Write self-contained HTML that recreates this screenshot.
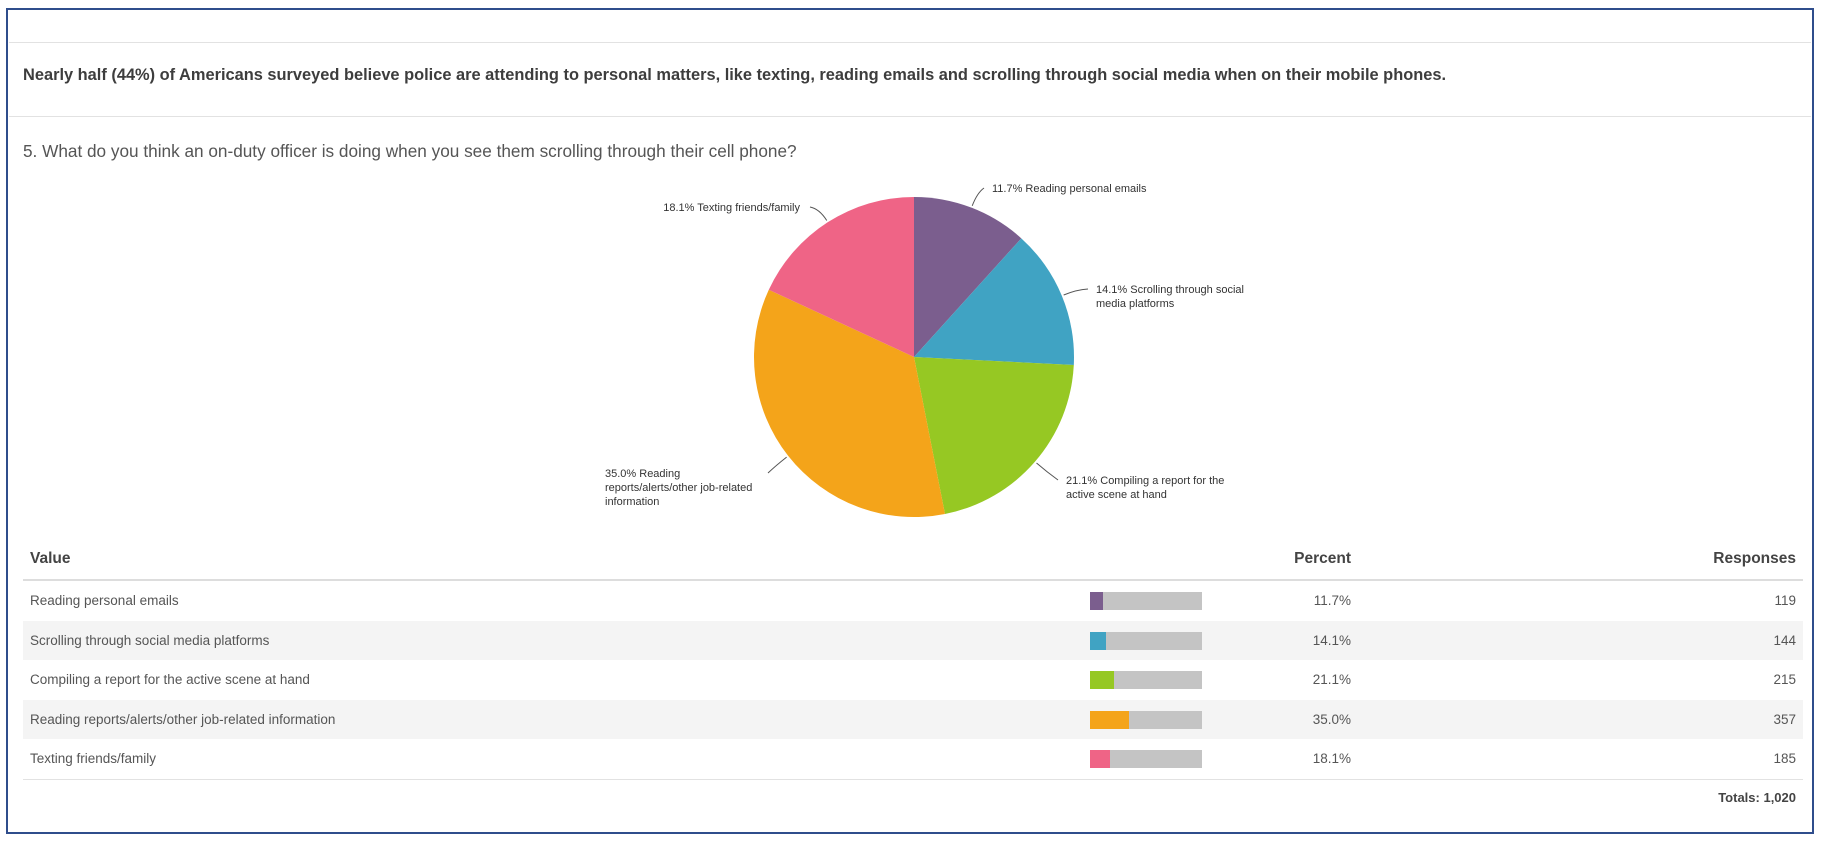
<!DOCTYPE html>
<html><head><meta charset="utf-8"><style>
body{margin:0;width:1823px;height:843px;background:#fff;font-family:"Liberation Sans",sans-serif;color:#444;position:relative;overflow:hidden}
.abs{position:absolute}
</style></head><body>
<div class="abs" style="left:6px;top:8px;width:1804px;height:822px;border:2.5px solid #2f4d8c"></div>
<div class="abs" style="left:9px;top:42px;width:1802px;height:1px;background:#e2e2e2"></div>
<div class="abs" style="left:23px;top:66px;font-size:16.4px;font-weight:bold;color:#3d3d3d">Nearly half (44%) of Americans surveyed believe police are attending to personal matters, like texting, reading emails and scrolling through social media when on their mobile phones.</div>
<div class="abs" style="left:9px;top:116px;width:1802px;height:1px;background:#e2e2e2"></div>
<div class="abs" style="left:23px;top:141px;font-size:17.2px;color:#555">5. What do you think an on-duty officer is doing when you see them scrolling through their cell phone?</div>
<svg class="abs" style="left:0;top:0" width="1823" height="843" id="chart"></svg>
<div id="table"></div>
<script>
const categories=["Reading personal emails","Scrolling through social media platforms","Compiling a report for the active scene at hand","Reading reports/alerts/other job-related information","Texting friends/family"];
const percents=[11.7,14.1,21.1,35.0,18.1];
const responses=[119,144,215,357,185];
const colors=["#7b5e8e","#40a3c3","#96c823","#f4a41a","#ef6486"];
const pieLabels=[["11.7% Reading personal emails"],["14.1% Scrolling through social","media platforms"],["21.1% Compiling a report for the","active scene at hand"],["35.0% Reading","reports/alerts/other job-related","information"],["18.1% Texting friends/family"]];
const labelPos=[[992,192,"start"],[1096,293,"start"],[1066,484,"start"],[605,477,"start"],[800,211,"end"]];
const attach=[[984,188],[1088,289],[1058,480],[768,473],[810,207]];
const ns="http://www.w3.org/2000/svg";
const svg=document.getElementById('chart');
const cx=914,cy=357,r=160;
const total=percents.reduce((a,b)=>a+b,0);
let a0=0;
percents.forEach((p,i)=>{
  const a1=a0+p/total*2*Math.PI;
  const x0=cx+r*Math.sin(a0),y0=cy-r*Math.cos(a0),x1=cx+r*Math.sin(a1),y1=cy-r*Math.cos(a1);
  const path=document.createElementNS(ns,'path');
  path.setAttribute('d',`M${cx},${cy}L${x0},${y0}A${r},${r} 0 ${a1-a0>Math.PI?1:0} 1 ${x1},${y1}Z`);
  path.setAttribute('fill',colors[i]);
  
  
  svg.appendChild(path);
  const am=(a0+a1)/2;
  const ex=cx+(r+2)*Math.sin(am),ey=cy-(r+2)*Math.cos(am);
  const mx=cx+(r+16)*Math.sin(am),my=cy-(r+16)*Math.cos(am);
  const [lx,ly,anchor]=labelPos[i];
  const [tx,ty]=attach[i];
  const ln=document.createElementNS(ns,'path');
  ln.setAttribute('d',`M${ex},${ey}Q${mx},${my} ${tx},${ty}`);
  ln.setAttribute('fill','none');ln.setAttribute('stroke','#555');ln.setAttribute('stroke-width','1');
  
  
  svg.appendChild(ln);
  const t=document.createElementNS(ns,'text');
  t.setAttribute('x',lx);t.setAttribute('y',ly);t.setAttribute('font-size','11');t.setAttribute('fill','#333');
  t.setAttribute('text-anchor',anchor);t.setAttribute('font-family','Liberation Sans, sans-serif');
  
  
  pieLabels[i].forEach((s,k)=>{const ts=document.createElementNS(ns,'tspan');ts.setAttribute('x',lx);ts.setAttribute('dy',k?14:0);ts.textContent=s;t.appendChild(ts);});
  svg.appendChild(t);
  a0=a1;
});
const tb=document.getElementById('table');
let h=`<div class="abs" style="left:30px;top:550px;font-size:15.5px;font-weight:bold;color:#444">Value</div>
<div class="abs" style="left:1251px;width:100px;text-align:right;top:550px;font-size:15.5px;font-weight:bold;color:#444">Percent</div>
<div class="abs" style="left:1646px;width:150px;text-align:right;top:550px;font-size:15.5px;font-weight:bold;color:#444">Responses</div>
<div class="abs" style="left:23px;top:579px;width:1780px;height:2px;background:#ddd"></div>`;
categories.forEach((c,i)=>{
  const top=581+i*39.5;
  h+=`<div class="abs" style="left:23px;top:${top}px;width:1780px;height:39.5px;background:${i%2?'#f4f4f4':'#fff'}"></div>
<div class="abs" style="left:30px;top:${top+12}px;font-size:13.5px;color:#555">${c}</div>
<div class="abs" style="left:1090px;top:${top+11}px;width:112px;height:18px;background:#c4c4c4"></div>
<div class="abs" style="left:1090px;top:${top+11}px;width:${112*percents[i]/100}px;height:18px;background:${colors[i]}"></div>
<div class="abs" style="left:1251px;width:100px;text-align:right;top:${top+12}px;font-size:13.5px;color:#555">${percents[i].toFixed(1)}%</div>
<div class="abs" style="left:1646px;width:150px;text-align:right;top:${top+12}px;font-size:13.5px;color:#555">${responses[i]}</div>`;
});
const tot=responses.reduce((a,b)=>a+b,0);
h+=`<div class="abs" style="left:23px;top:779px;width:1780px;height:1px;background:#e2e2e2"></div>
<div class="abs" style="left:1646px;width:150px;text-align:right;top:790px;font-size:13px;font-weight:bold;color:#444">Totals: ${tot.toLocaleString('en-US')}</div>`;
tb.innerHTML=h;
</script>
</body></html>
